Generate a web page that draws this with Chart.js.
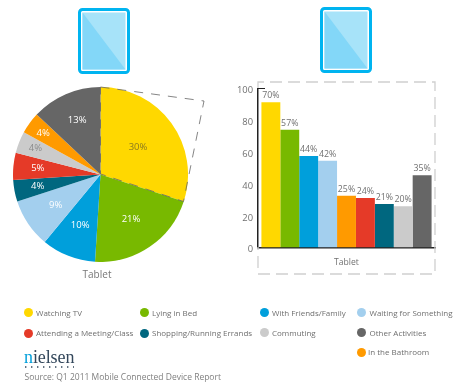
<!DOCTYPE html>
<html>
<head>
<meta charset="utf-8">
<title>Tablet usage</title>
<script src="https://cdn.jsdelivr.net/npm/chart.js@4/dist/chart.umd.min.js"></script>
<style>
  html, body { margin: 0; padding: 0; background: #fff; }
  #page { position: relative; width: 454px; height: 390px; overflow: hidden; font-family: "Open Sans", sans-serif; color: #6f6f6f; }
  canvas, svg { position: absolute; }
  .key { position: absolute; font-size: 8px; line-height: 12px; white-space: nowrap; }
  .dot { position: absolute; width: 9px; height: 9px; border-radius: 50%; }
  .cap { position: absolute; font-size: 10px; line-height: 12px; transform: translateX(-50%); color: #777; }
  #logo { position: absolute; left: 24px; top: 348px; font: 18px "Liberation Serif", serif; line-height: 18px; color: #33475b; letter-spacing: -0.1px; }
  #logo b { font-weight: normal; color: #009fdb; }
  #source { position: absolute; left: 24.5px; top: 371px; font-size: 8.5px; line-height: 12px; white-space: nowrap; color: #808080; }
</style>
</head>
<body>
<div id="page">
  <canvas id="pie" width="175" height="175" style="left:13px;top:87px;width:175px;height:175px"></canvas>
  <canvas id="bars" width="227" height="200" style="left:227px;top:80px;width:227px;height:200px"></canvas>

  <svg width="454" height="390" style="left:0;top:0;pointer-events:none">
    <g transform="translate(78,8)">
      <rect x="1.5" y="1.5" width="49" height="63" rx="3" fill="#fff" stroke="#00b4f0" stroke-width="3"/>
      <rect x="4.5" y="4.5" width="43" height="57" fill="#a7e3f9"/>
      <path d="M4.5 4.5 L47.5 61.5 L4.5 61.5 Z" fill="#83d7f8"/>
    </g>
    <g transform="translate(320,7)">
      <rect x="1.5" y="1.5" width="49" height="63" rx="3" fill="#fff" stroke="#00b4f0" stroke-width="3"/>
      <rect x="4.5" y="4.5" width="43" height="57" fill="#a7e3f9"/>
      <path d="M4.5 4.5 L47.5 61.5 L4.5 61.5 Z" fill="#83d7f8"/>
    </g>
    <path d="M100.5 87 L204 101 L183.5 201.5 L100.5 174 Z" fill="none" stroke="#666" stroke-width="0.8" stroke-dasharray="9 8"/>
    <path d="M258 88 L258 82 L435 82 L435 274 L258 274 L258 247" fill="none" stroke="#cfcfcf" stroke-width="1.3" stroke-dasharray="12 6"/>
    <path d="M258 88.5 L265 88.5" stroke="#222" stroke-width="1"/>
    <path d="M25 367 L74 367" stroke="#33475b" stroke-width="1.4" stroke-dasharray="1.4 4.6"/>
  </svg>

  <div class="cap" style="left:97px;top:268px">Tablet</div>
  <div id="legend"></div>
  <div id="logo"><b>n</b>ielsen</div>
  <div id="source">Source: Q1 2011 Mobile Connected Device Report</div>
</div>

<script>
var categories = ['Watching TV', 'Lying in Bed', 'With Friends/Family', 'Waiting for Something', 'In the Bathroom', 'Attending a Meeting/Class', 'Shopping/Running Errands', 'Commuting', 'Other Activities'];
var colors = ['#ffd800', '#78b900', '#009fdb', '#a3cfee', '#ff9a00', '#e53a28', '#00677f', '#cbcbcb', '#666666'];

var tabletGroup = ['Tablet'];
var yTicks = [0, 20, 40, 60, 80, 100];

// pie slices go clockwise from 12 o'clock
var pieCategories = ['Watching TV', 'Lying in Bed', 'With Friends/Family', 'Waiting for Something', 'Shopping/Running Errands', 'Attending a Meeting/Class', 'Commuting', 'In the Bathroom', 'Other Activities'];
var pieValues = [30, 21, 10, 9, 4, 5, 4, 4, 13];
var pieTextColors = ['#8a7a20', '#fff', '#fff', '#fff', '#fff', '#fff', '#8c8c8c', '#fff', '#fff'];
var pieLabelRadius = [0.53, 0.62, 0.63, 0.62, 0.73, 0.72, 0.8, 0.81, 0.67];

// bar heights as plotted, the printed % labels do not follow the axis
var barValues = [91.3, 74, 57.5, 54.6, 32.6, 31.2, 27.3, 26, 45.5];
var barLabels = ['70%', '57%', '44%', '42%', '25%', '24%', '21%', '20%', '35%'];

// legend layout: one entry per category, dot x/y and text x
var legendSpots = [
  [28.5, 312.7, 36], [144.3, 312.7, 152], [264, 312.5, 272], [361.7, 312.5, 369.5],
  [361.7, 352, 368],
  [28.7, 333.3, 36], [144.3, 333.3, 152], [264, 332.8, 272], [361.7, 332.8, 369.5]
];

var legend = document.getElementById('legend');
categories.forEach(function (name, i) {
  var dot = document.createElement('div');
  dot.className = 'dot';
  dot.style.left = (legendSpots[i][0] - 4.5) + 'px';
  dot.style.top = (legendSpots[i][1] - 4.5) + 'px';
  dot.style.background = colors[i];
  var key = document.createElement('div');
  key.className = 'key';
  key.style.left = legendSpots[i][2] + 'px';
  key.style.top = (legendSpots[i][1] - 6) + 'px';
  key.textContent = name;
  legend.appendChild(dot);
  legend.appendChild(key);
});

var font = '"Open Sans", sans-serif';

var pieLabelPlugin = {
  id: 'pieLabels',
  afterDatasetsDraw: function (chart) {
    var ctx = chart.ctx;
    ctx.save();
    ctx.font = '9.5px ' + font;
    ctx.textAlign = 'center';
    ctx.textBaseline = 'middle';
    chart.getDatasetMeta(0).data.forEach(function (arc, i) {
      var mid = (arc.startAngle + arc.endAngle) / 2;
      var r = arc.outerRadius * pieLabelRadius[i];
      ctx.fillStyle = pieTextColors[i];
      ctx.fillText(pieValues[i] + '%', arc.x + Math.cos(mid) * r, arc.y + Math.sin(mid) * r);
    });
    ctx.restore();
  }
};

new Chart(document.getElementById('pie'), {
  type: 'pie',
  data: {
    labels: pieCategories,
    datasets: [{
      data: pieValues,
      backgroundColor: pieCategories.map(function (c) { return colors[categories.indexOf(c)]; }),
      borderWidth: 0
    }]
  },
  options: {
    responsive: false,
    animation: false,
    layout: { padding: 0 },
    plugins: { legend: { display: false }, tooltip: { enabled: false } }
  },
  plugins: [pieLabelPlugin]
});

var barLabelPlugin = {
  id: 'barLabels',
  afterDatasetsDraw: function (chart) {
    var ctx = chart.ctx;
    ctx.save();
    ctx.font = '8.8px ' + font;
    ctx.fillStyle = '#707070';
    ctx.textAlign = 'center';
    ctx.textBaseline = 'bottom';
    chart.data.datasets.forEach(function (ds, i) {
      var bar = chart.getDatasetMeta(i).data[0];
      ctx.fillText(barLabels[i], bar.x, bar.y - 2);
    });
    // y tick text sits a little under its tick in the original
    var y = chart.scales.y;
    ctx.font = '9.4px ' + font;
    ctx.textAlign = 'right';
    ctx.textBaseline = 'middle';
    yTicks.forEach(function (t) {
      ctx.fillText(t, 26, y.getPixelForValue(t) + 2.2);
    });
    ctx.restore();
  }
};

new Chart(document.getElementById('bars'), {
  type: 'bar',
  data: {
    labels: tabletGroup,
    datasets: categories.map(function (name, i) {
      return { label: name, data: [barValues[i]], backgroundColor: colors[i], borderWidth: 0 };
    })
  },
  options: {
    responsive: false,
    animation: false,
    layout: { padding: { left: 30.5, top: 8.5, right: 18.5, bottom: 0 } },
    datasets: { bar: { barPercentage: 1, categoryPercentage: 0.956 } },
    scales: {
      x: {
        grid: { display: false, drawTicks: false },
        border: { color: '#222', width: 1.5 },
        ticks: { color: '#707070', font: { family: font, size: 8.6 }, padding: 10, maxRotation: 0 },
        afterFit: function (scale) { scale.height = 32.5; }
      },
      y: {
        min: 0,
        max: 100,
        grid: { display: false, drawTicks: false },
        border: { color: '#222', width: 1.5 },
        ticks: { display: false, stepSize: 20 }
      }
    },
    plugins: { legend: { display: false }, tooltip: { enabled: false } }
  },
  plugins: [barLabelPlugin]
});
</script>
</body>
</html>
